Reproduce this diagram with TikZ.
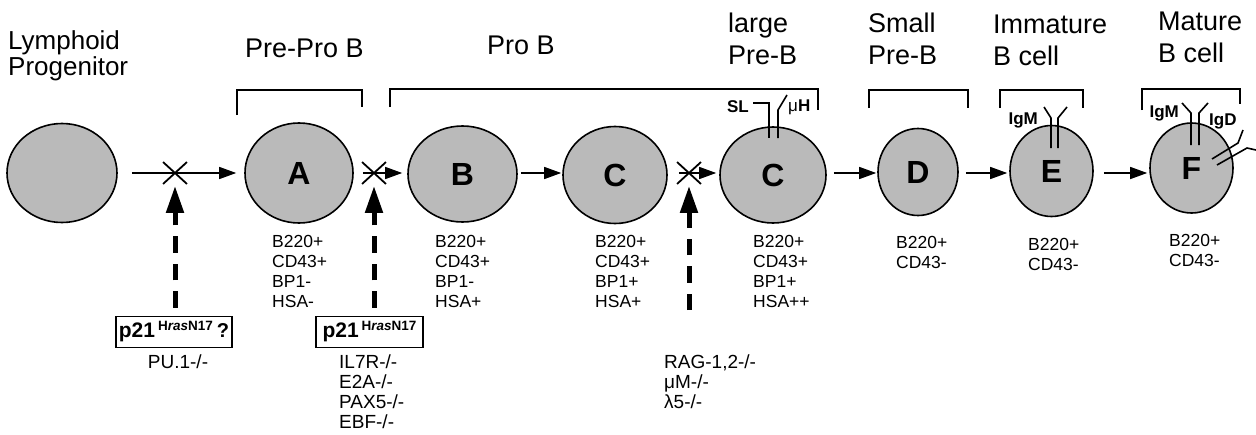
\documentclass[tikz,border=0pt]{standalone}
\usepackage{fontspec}
\setmainfont{Liberation Sans}
\usetikzlibrary{arrows.meta,shapes.geometric,shapes.misc}

% left-aligned stack of lines whose reference point is the first baseline
\newcommand\stackl[1]{\begin{tabular}[t]{@{}l@{}}#1\end{tabular}}
% dominant-negative Ras label
\newcommand\ptw{{\fontsize{21}{21}\selectfont\bfseries p21}\hspace{3pt}\raisebox{7pt}{\fontsize{13.5}{13.5}\selectfont\bfseries H\textit{ras}N17}}

\begin{document}
\begin{tikzpicture}[x=1pt,y=-1pt,
  cell/.style={ellipse, draw, line width=1.6pt, fill=black!27, inner sep=0pt,
    font=\fontsize{32}{32}\selectfont\bfseries},
  flow/.style={line width=1.4pt, -{Triangle[length=17pt,width=12pt]}},
  block/.style={cross out, draw, line width=1.8pt, minimum width=22pt,
    minimum height=20pt, inner sep=0pt},
  inhib/.style={line width=5pt, dash pattern=on 16.5pt off 11pt,
    -{Triangle[length=27pt,width=17pt]}},
  bracket/.style={line width=1.5pt},
  title/.style={font=\fontsize{27}{32}\selectfont, inner sep=0pt, anchor=base west},
  mk/.style={font=\fontsize{17.5}{20}\selectfont, inner sep=0pt, anchor=base west},
  gene/.style={font=\fontsize{19}{20}\selectfont, inner sep=0pt, anchor=base west},
  gbox/.style={draw, line width=1.4pt, minimum height=31pt, inner sep=0pt},
  rc/.style={line width=1.6pt},
  rl/.style={font=\fontsize{17}{17}\selectfont\bfseries, inner sep=0pt}]

\useasboundingbox (0,0) rectangle (1256,434);

% stage titles
\node[title, font=\fontsize{26}{25}\selectfont] (tL) at (8,49) {\stackl{Lymphoid\\Progenitor}};
\node[title] (tPPB) at (245,57) {Pre-Pro B};
\node[title] (tPB) at (487,54) {Pro B};
\node[title] (tLPB) at (728,32) {\stackl{large\\Pre-B}};
\node[title] (tSPB) at (868,32) {\stackl{Small\\Pre-B}};
\node[title] (tIB) at (993,33) {\stackl{Immature\\B cell}};
\node[title] (tMB) at (1158,30) {\stackl{Mature\\B cell}};

% brackets grouping the fractions
\draw[bracket] (237,115) |- (362,90) -- (362,107);
\draw[bracket] (390,107) |- (818,89) -- (818,110);
\draw[bracket] (869,108) |- (968,90) -- (968,108);
\draw[bracket] (1000,108) |- (1083,90) -- (1083,108);
\draw[bracket] (1142,110) |- (1240,89) -- (1240,104);

% cells
\node[cell, minimum width=110pt, minimum height=99pt] (cL) at (62,173) {};
\node[cell, minimum width=108pt, minimum height=100pt] (cA) at (299,173) {A};
\node[cell, minimum width=109pt, minimum height=96pt] (cB) at (462.5,174) {B};
\node[cell, minimum width=104pt, minimum height=97pt] (cC) at (615,175) {C};
\node[cell, minimum width=106pt, minimum height=96pt] (cC2) at (773,175) {C};
\node[cell, minimum width=80pt, minimum height=87pt] (cD) at (918,172) {D};
\node[cell, minimum width=83pt, minimum height=91pt] (cE) at (1051.5,171) {E};
\node[cell, minimum width=83pt, minimum height=90pt] (cF) at (1191.5,168) {F};

% developmental progression
\coordinate (row) at (0,173);
\draw[flow, shorten <=14pt, shorten >=8pt] (cL.east |- row) -- (cA.west |- row);
\draw[flow, shorten <=9pt, shorten >=5pt] (cA.east |- row) -- (cB.west |- row);
\draw[flow, shorten <=3pt, shorten >=1pt] (cB.east |- row) -- (cC.west |- row);
\draw[flow, shorten <=11pt, shorten >=3pt] (cC.east |- row) -- (cC2.west |- row);
\draw[flow, shorten <=7pt, shorten >=1pt] (cC2.east |- row) -- (cD.west |- row);
\draw[flow, shorten <=7pt, shorten >=2pt] (cD.east |- row) -- (cE.west |- row);
\draw[flow, shorten <=10pt, shorten >=2pt] (cE.east |- row) -- (cF.west |- row);

% blocks in the pathway
\node[block] (x1) at (175,173) {};
\node[block] (x2) at (374,173) {};
\node[block] (x3) at (689,173) {};

% receptors: surrogate light chain and mu heavy chain
\draw[rc] (753,103) -- (769,103) -- (769,138);
\draw[rc] (778,138) -- (778,110) -- (787,95);
\node[rl, anchor=east] (lSL) at (749,107) {SL};
\node[rl, anchor=west] (lmuH) at (788,107) {{\mdseries μ}H};

% IgM on immature B cell
\draw[rc] (1044,107) -- (1051,118) -- (1051,148);
\draw[rc] (1067,107) -- (1058,118) -- (1058,148);
\node[rl, anchor=east] (lIgM1) at (1038,120) {IgM};

% IgM and IgD on mature B cell
\draw[rc] (1182,103) -- (1191,113) -- (1191,145);
\draw[rc] (1208,103) -- (1199,113) -- (1199,145);
\node[rl, anchor=east] (lIgM2) at (1179,113) {IgM};
\node[rl, anchor=west] (lIgD) at (1209,121) {IgD};
\draw[rc] (1212,159) -- (1238,143) -- (1243,130);
\draw[rc] (1217,165) -- (1247,148) -- (1256,150);

% surface markers
\node[mk] (mA) at (272,247) {\stackl{B220+\\CD43+\\BP1-\\HSA-}};
\node[mk] (mB) at (435,247) {\stackl{B220+\\CD43+\\BP1-\\HSA+}};
\node[mk] (mC) at (595,247) {\stackl{B220+\\CD43+\\BP1+\\HSA+}};
\node[mk] (mC2) at (753,247) {\stackl{B220+\\CD43+\\BP1+\\HSA++}};
\node[mk] (mD) at (896,248) {\stackl{B220+\\CD43-}};
\node[mk] (mE) at (1028,250) {\stackl{B220+\\CD43-}};
\node[mk] (mF) at (1169,246) {\stackl{B220+\\CD43-}};

% inhibitors and knockouts
\node[gbox, minimum width=116pt] (b1) at (174,332) {\ptw\hspace{4pt}{\fontsize{20}{20}\selectfont\bfseries ?}};
\node[gbox, minimum width=107pt] (b2) at (369.5,332) {\ptw};
\coordinate (d3s) at (689,310);

\draw[inhib, shorten <=8pt, shorten >=2pt] (x1 |- b1.north) -- (x1.south);
\draw[inhib, shorten <=8pt, shorten >=2pt] (x2 |- b2.north) -- (x2.south);
\draw[inhib, shorten >=2pt] (d3s) -- (x3.south);

\node[gene, anchor=base] (gPU) at (178,368) {PU.1-/-};
\node[gene] (gB) at (339,368) {\stackl{IL7R-/-\\E2A-/-\\PAX5-/-\\EBF-/-}};
\node[gene] (gC) at (664,368) {\stackl{RAG-1,2-/-\\μM-/-\\λ5-/-}};

\end{tikzpicture}
\end{document}
